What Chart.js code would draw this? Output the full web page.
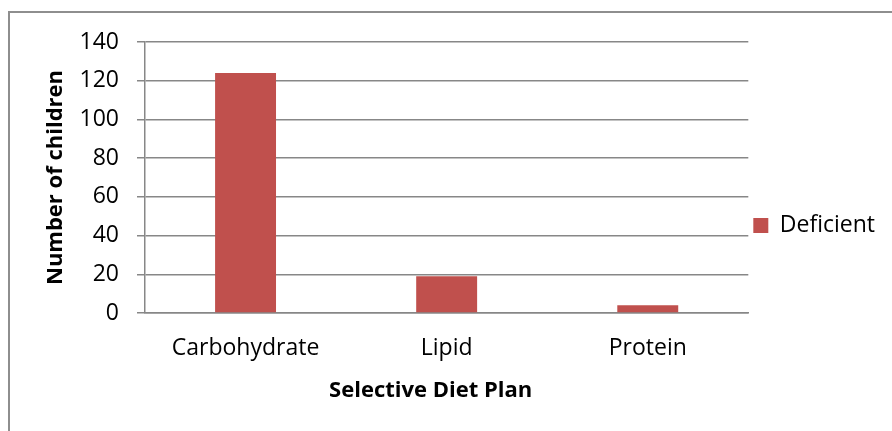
<!DOCTYPE html>
<html>
<head>
<meta charset="utf-8">
<script src="https://cdn.jsdelivr.net/npm/chart.js@4.4.0/dist/chart.umd.min.js"></script>
<style>
  body { margin: 0; background: #fff; overflow: hidden; }
  #frame { position: absolute; left: 8px; top: 11px; width: 900px; height: 460px; border: 2px solid #8e8e8e; }
  #wrap { position: absolute; left: 0; top: 0; width: 892px; height: 431px; }
</style>
</head>
<body>
<div id="frame"></div>
<div id="wrap"><canvas id="dietChart"></canvas></div>
<script>
const categories = ['Carbohydrate', 'Lipid', 'Protein'];
const deficient = [124, 19, 4];
const yTicks = [0, 20, 40, 60, 80, 100, 120, 140];
const xTitle = 'Selective Diet Plan';

const fontFamily = '"Open Sans", sans-serif';
const gridColor = '#878787';

// nudge the legend up a little, like the original sits slightly above centre
// and draw the x title a bit left of the plot centre (Excel puts it there)
const tweaks = {
  id: 'tweaks',
  afterLayout(chart) {
    const lg = chart.legend;
    if (lg) { lg.top -= 11; lg.bottom -= 11; }
  },
  afterDraw(chart) {
    const c = chart.ctx;
    const area = chart.chartArea;
    c.save();
    c.font = 'bold 22px ' + fontFamily;
    c.fillStyle = '#000';
    c.textAlign = 'center';
    c.textBaseline = 'middle';
    c.fillText(xTitle, (area.left + area.right) / 2 - 16, area.bottom + 78);
    c.restore();
  }
};

const ctx = document.getElementById('dietChart').getContext('2d');

new Chart(ctx, {
  type: 'bar',
  data: {
    labels: categories,
    datasets: [{
      label: 'Deficient',
      data: deficient,
      backgroundColor: '#C0504D',
      categoryPercentage: 1,
      barPercentage: 0.303
    }]
  },
  options: {
    responsive: true,
    maintainAspectRatio: false,
    animation: false,
    layout: { padding: { top: 42, left: 0, right: 7, bottom: 0 } },
    plugins: {
      legend: {
        position: 'right',
        labels: {
          color: '#000',
          font: { family: fontFamily, size: 23 },
          boxWidth: 15,
          boxHeight: 15,
          padding: 5
        }
      },
      tooltip: { enabled: false }
    },
    scales: {
      x: {
        grid: { display: false, drawTicks: false },
        border: { display: true, color: gridColor, width: 1.5 },
        ticks: { color: '#000', font: { family: fontFamily, size: 23 }, padding: 22, maxRotation: 0 },
        title: { display: false },
        afterFit: (s) => { s.height = 118; }
      },
      y: {
        min: 0,
        max: 140,
        afterBuildTicks: (s) => { s.ticks = yTicks.map(v => ({ value: v })); },
        grid: { color: gridColor, lineWidth: 1.5, tickLength: 8 },
        border: { display: true, color: gridColor, width: 1.5 },
        ticks: { color: '#000', font: { family: fontFamily, size: 23 }, padding: 18 },
        title: {
          display: true,
          text: 'Number of children',
          color: '#000',
          font: { family: fontFamily, size: 22, weight: 'bold' },
          padding: { top: 43, bottom: 0 }
        },
        afterFit: (s) => { s.width = 145; }
      }
    }
  },
  plugins: [tweaks]
});
</script>
</body>
</html>
